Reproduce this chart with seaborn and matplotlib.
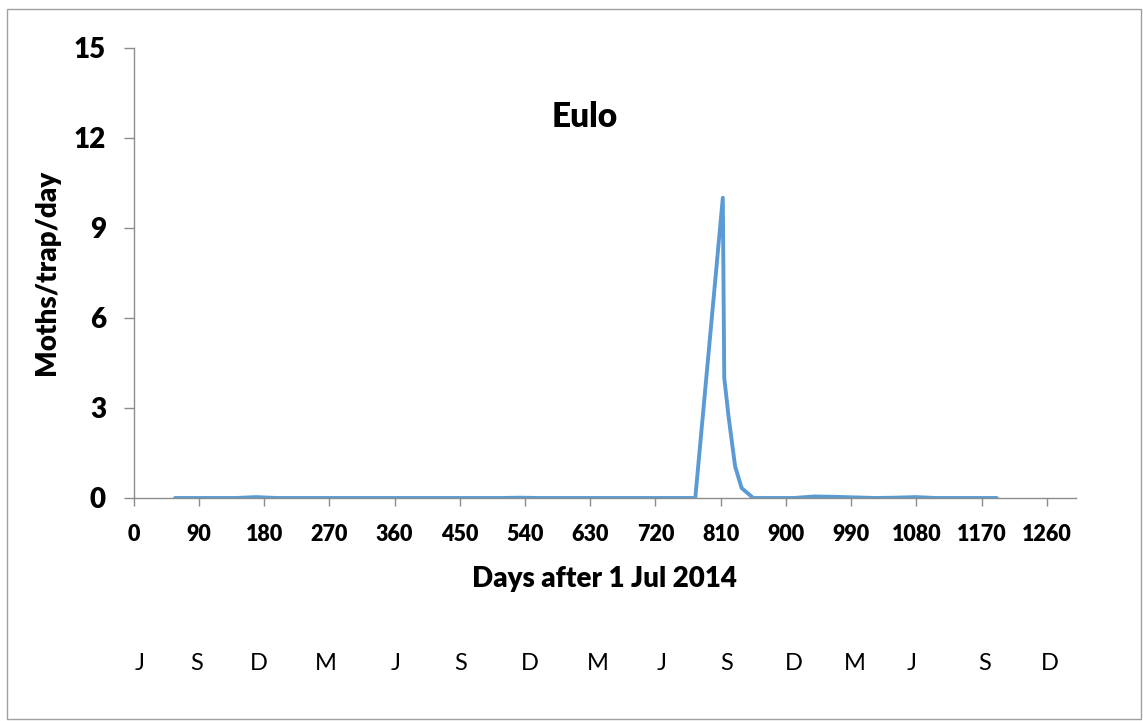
import matplotlib
matplotlib.use("Agg")
import matplotlib.pyplot as plt
import seaborn as sns
import pandas as pd
from matplotlib.patches import Rectangle

# Trap catches at Eulo (days after 1 Jul 2014)
days = [57, 85, 113, 141, 169, 197, 225, 253, 281, 309, 337, 365, 393, 421,
        449, 477, 505, 533, 561, 589, 617, 645, 673, 701, 729, 757, 775,
        813, 815, 821, 830, 839, 855, 883, 911, 939, 967, 995, 1023, 1051,
        1079, 1107, 1135, 1163, 1191]
moths = [0.0, 0.0, 0.0, 0.0, 0.03, 0.0, 0.0, 0.0, 0.0, 0.0, 0.0, 0.0, 0.0, 0.0,
         0.0, 0.0, 0.0, 0.01, 0.0, 0.0, 0.0, 0.0, 0.0, 0.0, 0.0, 0.0, 0.0,
         10.0, 4.0, 2.7, 1.05, 0.33, 0.0, 0.0, 0.0, 0.05, 0.04, 0.02, 0.0, 0.01,
         0.03, 0.0, 0.0, 0.0, 0.0]

x_ticks = list(range(0, 1261, 90))
y_ticks = [0, 3, 6, 9, 12, 15]
month_letters = ["J", "S", "D", "M", "J", "S", "D", "M", "J", "S", "D", "M", "J", "S", "D"]
month_x_px = [140, 197, 259, 326, 396, 461, 530, 598, 662, 727, 794, 855, 912, 985, 1050]

df = pd.DataFrame({"days": days, "moths": moths})

sns.set_style("white")
plt.rcParams["font.family"] = ["Lato", "DejaVu Sans"]
plt.rcParams["text.color"] = "black"
plt.rcParams["xtick.color"] = "black"
plt.rcParams["ytick.color"] = "black"

W, H = 1143, 721
fig = plt.figure(figsize=(W / 100, H / 100), dpi=100)
ax = fig.add_axes([133.7 / W, 1 - 498 / H, (1075.7 - 133.7) / W, (498 - 47.7) / H])

sns.lineplot(data=df, x="days", y="moths", ax=ax, color="#5B9BD5", linewidth=2.8)

ax.set_xlim(0, 1300)
ax.set_ylim(0, 15)
ax.set_xticks(x_ticks)
ax.set_yticks(y_ticks)
ax.set_xticklabels([str(t) for t in x_ticks], fontsize=15.5, fontweight="heavy")
ax.set_yticklabels([str(t) for t in y_ticks], fontsize=20, fontweight="heavy")
ax.tick_params(axis="x", direction="out", length=6, width=1, color="#8c8c8c",
               labelcolor="black", pad=13, bottom=True)
ax.tick_params(axis="y", direction="out", length=7, width=1, color="#8c8c8c",
               labelcolor="black", pad=13, left=True)

for side in ["top", "right"]:
    ax.spines[side].set_visible(False)
for side in ["left", "bottom"]:
    ax.spines[side].set_color("#8c8c8c")
    ax.spines[side].set_linewidth(1)

ax.set_xlabel("")
ax.set_ylabel("")
fig.text(605 / W, 1 - 579 / H, "Days after 1 Jul 2014", fontsize=20, fontweight="heavy",
         ha="center", va="center")
fig.text(47 / W, 1 - 272 / H, "Moths/trap/day", fontsize=20, fontweight="heavy",
         ha="center", va="center", rotation=90)
fig.text(585 / W, 1 - 117 / H, "Eulo", fontsize=24, fontweight="heavy", ha="center", va="center")

for letter, px in zip(month_letters, month_x_px):
    fig.text(px / W, 1 - 663 / H, letter, fontsize=17, ha="center", va="center")

fig.patches.append(Rectangle((7 / W, 1 - 719 / H), (1141 - 7) / W, (719 - 9) / H,
                             transform=fig.transFigure, fill=False,
                             edgecolor="#a0a0a0", linewidth=1))

fig.savefig("out.png", dpi=100)
